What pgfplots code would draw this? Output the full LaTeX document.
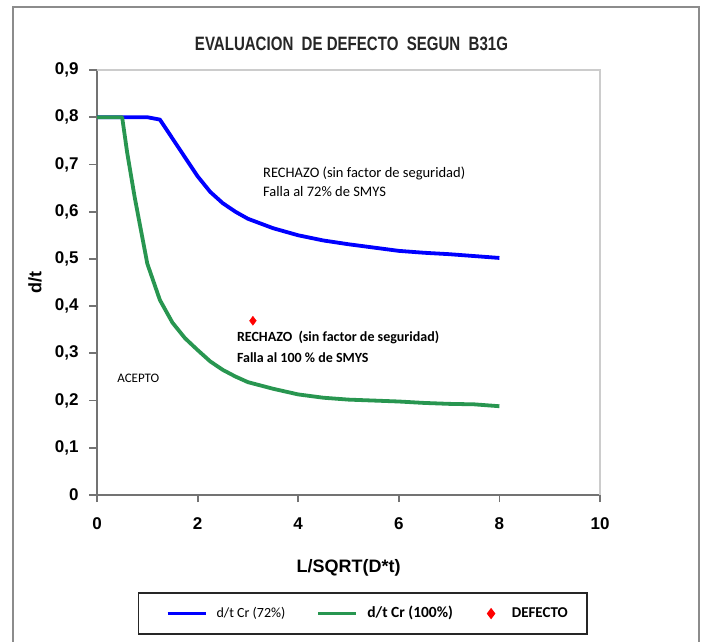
\documentclass[border=0pt]{standalone}
\usepackage{fontspec}
\setmainfont{Liberation Sans}
\newfontfamily\calfont{Carlito}
\usepackage{pgfplots}
\pgfplotsset{compat=1.18}
\definecolor{cgreen}{RGB}{40,150,80}
\definecolor{frame}{RGB}{140,140,140}
\pgfplotsset{
  limgA/.style={legend image code/.code={\path (-27pt,0pt); \draw[##1] (0pt,0pt) -- (38pt,0pt);}},
  limgB/.style={legend image code/.code={\draw[##1] (0pt,0pt) -- (38pt,0pt);}},
  limgC/.style={legend image code/.code={\path (0pt,0pt) (15pt,0pt); \draw[##1] plot coordinates {(4pt,0pt)};}},
}
\begin{document}
\begin{tikzpicture}[x=1pt,y=1pt]
\useasboundingbox (0,0) rectangle (704,641);
\fill[white] (0,0) rectangle (704,641);
\draw[frame, line width=2.5pt] (13,-5) rectangle (699,634);
\node[text=black!85, inner sep=0pt] at (351.5,597.5) {\resizebox{313pt}{13.5pt}{\bfseries EVALUACION\ \ DE DEFECTO\ \ SEGUN\ \ B31G}};
\begin{axis}[
  at={(97pt,146pt)}, anchor=south west, scale only axis,
  width=503pt, height=425pt,
  xmin=0, xmax=10, ymin=0, ymax=0.9,
  separate axis lines,
  axis x line*=bottom, axis y line*=left,
  axis line style={-, draw=black!55, line width=1.8pt},
  xtick={0,2,4,6,8,10},
  ytick={0,0.1,0.2,0.3,0.4,0.5,0.6,0.7,0.8,0.9},
  tick align=outside, major tick length=7pt,
  tick style={black!55, line width=1.8pt},
  /pgf/number format/assume math mode=true,
  yticklabel style={/pgf/number format/.cd, use comma, fixed, precision=1, assume math mode=true},
  ticklabel style={font=\fontsize{17}{17}\selectfont\bfseries},
  xticklabel shift=12pt, yticklabel shift=8pt,
  xlabel={L/SQRT(D*t)}, ylabel={d/t},
  label style={font=\fontsize{18}{18}\selectfont\bfseries},
  xlabel style={at={(axis description cs:0.5,-0.172)}, anchor=center},
  ylabel style={at={(axis description cs:-0.123,0.5)}, anchor=center},
  clip=false,
  legend columns=3,
  legend cell align=left,
  legend style={at={(axis description cs:0.0815,-0.279)}, anchor=west,
    draw=black!85, line width=1.5pt, inner xsep=0pt, inner ysep=14pt,
    nodes={inner sep=0pt, text height=10pt, text depth=3pt},
    /tikz/every even column/.append style={column sep=0pt},
    /tikz/every odd column/.append style={column sep=9pt}},
]
\draw[black!20, line width=1.5pt] (axis cs:0,0.9) -- (axis cs:10,0.9) -- (axis cs:10,0);
\pgfplotsinvokeforeach{0,0.1,0.2,0.3,0.4,0.5,0.6,0.7,0.8,0.9}{
  \draw[black!55, line width=1.8pt] (axis cs:0,#1) -- ++(-8pt,0pt);}
\pgfplotsinvokeforeach{0,2,4,6,8,10}{
  \draw[black!55, line width=1.8pt] (axis cs:#1,0) -- ++(0pt,-7pt);}
\addplot[blue, line width=3.8pt, line join=round, limgA]
  coordinates {(0,0.8)(0.5,0.8)(1.0,0.8)(1.25,0.795)(1.5,0.755)(1.75,0.715)(2,0.675)(2.25,0.642)(2.5,0.618)(2.75,0.600)(3,0.585)(3.5,0.565)(4,0.55)(4.5,0.539)(5,0.531)(5.5,0.524)(6,0.517)(6.5,0.513)(7,0.51)(7.5,0.506)(8,0.502)};
\addlegendentry{\makebox[100pt][l]{\calfont\fontsize{14}{14}\selectfont d/t Cr (72\%)}}
\addplot[cgreen, line width=3.8pt, line join=round, limgB]
  coordinates {(0,0.8)(0.5,0.8)(0.6,0.725)(0.75,0.63)(1.0,0.49)(1.25,0.413)(1.5,0.365)(1.75,0.332)(2,0.307)(2.25,0.283)(2.5,0.265)(2.75,0.251)(3,0.239)(3.5,0.225)(4,0.213)(4.5,0.206)(5,0.202)(5.5,0.2)(6,0.198)(6.5,0.195)(7,0.193)(7.5,0.192)(8,0.188)};
\addlegendentry{\makebox[119pt][l]{\calfont\bfseries\fontsize{15.5}{15.5}\selectfont d/t Cr (100\%)}}
\addplot[only marks, mark=diamond*, mark size=4.5pt, color=red, limgC]
  coordinates {(3.1,0.369)};
\addlegendentry{\makebox[75pt][l]{\calfont\bfseries\fontsize{15}{15}\selectfont DEFECTO}}
\node[anchor=west, inner sep=0pt, font=\calfont\fontsize{14.5}{14.5}\selectfont] at (axis cs:3.30,0.682) {RECHAZO (sin factor de seguridad)};
\node[anchor=west, inner sep=0pt, font=\calfont\fontsize{14.5}{14.5}\selectfont] at (axis cs:3.30,0.642) {Falla al 72\% de SMYS};
\node[anchor=west, inner sep=0pt, font=\calfont\bfseries\fontsize{14}{14}\selectfont] at (axis cs:2.78,0.333) {RECHAZO\ \ (sin factor de seguridad)};
\node[anchor=west, inner sep=0pt, font=\calfont\bfseries\fontsize{14}{14}\selectfont] at (axis cs:2.78,0.290) {Falla al 100 \% de SMYS};
\node[anchor=west, inner sep=0pt, font=\calfont\fontsize{13}{13}\selectfont] at (axis cs:0.40,0.248) {ACEPTO};
\end{axis}
\end{tikzpicture}
\end{document}
